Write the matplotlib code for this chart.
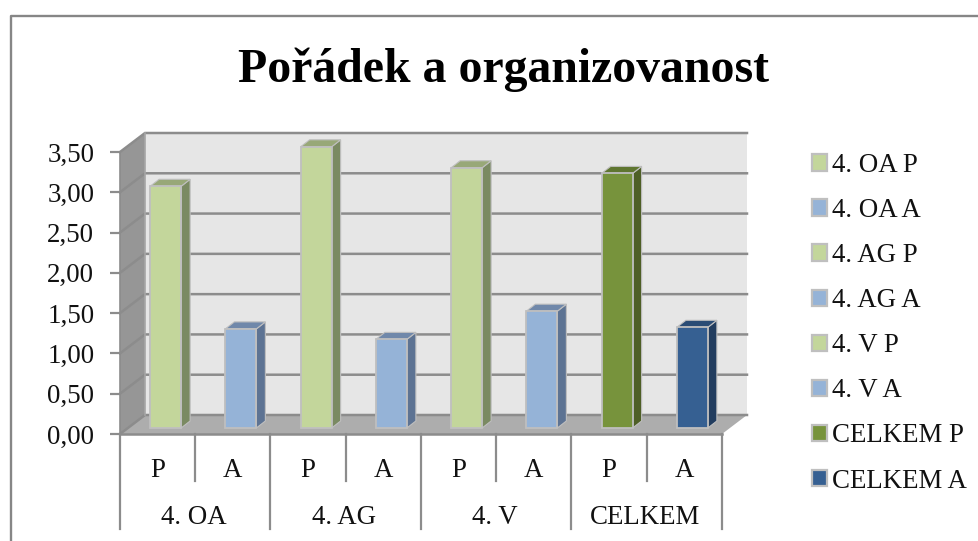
import matplotlib
matplotlib.use("Agg")
import matplotlib.pyplot as plt
from matplotlib.patches import Polygon, Patch
from matplotlib.ticker import FuncFormatter

plt.rcParams["font.family"] = ["Liberation Serif", "DejaVu Serif"]

groups = ["4. OA", "4. AG", "4. V", "CELKEM"]
subcats = ["P", "A", "P", "A", "P", "A", "P", "A"]
values = [3.00, 1.23, 3.49, 1.10, 3.23, 1.45, 3.16, 1.25]
legend_labels = ["4. OA P", "4. OA A", "4. AG P", "4. AG A", "4. V P", "4. V A", "CELKEM P", "CELKEM A"]
yticks = [0, 0.5, 1, 1.5, 2, 2.5, 3, 3.5]

LIGHT_GREEN = ("#C3D69B", "#7A8A62", "#98A878")
LIGHT_BLUE = ("#95B3D7", "#5D7393", "#7088AA")
DARK_GREEN = ("#77933C", "#4E5F26", "#5F7630")
DARK_BLUE = ("#366092", "#223D5F", "#2A4C75")
bar_colors = [LIGHT_GREEN, LIGHT_BLUE, LIGHT_GREEN, LIGHT_BLUE, LIGHT_GREEN, LIGHT_BLUE, DARK_GREEN, DARK_BLUE]

GRID = "#8C8C8C"
EDGE = "#BFBFBF"
FS = 19.4
PX_X = 1 / 75.25   # data units per pixel
PX_Y = 3.5 / 282
DX, DY = 25 * PX_X, 19 * PX_Y
BAR_W = 31 * PX_X
BAR_DX, BAR_DY = 9 * PX_X, 7 * PX_Y
OFF_X, OFF_Y = 8 * PX_X, 6 * PX_Y

fig = plt.figure(figsize=(9.79, 5.41), dpi=100)
ax = fig.add_axes([120 / 979, 1 - 434 / 541, 602 / 979, 282 / 541])
ax.set_xlim(0, 8)
ax.set_ylim(0, 3.5)
for s in ax.spines.values():
    s.set_visible(False)
ax.patch.set_visible(False)

# outer frame of the chart area
fig.add_artist(plt.Line2D([10.5 / 979, 10.5 / 979, 1], [0, 1 - 16 / 541, 1 - 16 / 541], color="#868686", lw=1.7))

# walls and floor
n = len(values)
ax.add_patch(Polygon([(DX, DY), (n + DX, DY), (n + DX, 3.5 + DY), (DX, 3.5 + DY)], fc="#E6E6E6", ec="none", clip_on=False, zorder=1))
ax.add_patch(Polygon([(0, 0), (DX, DY), (DX, 3.5 + DY), (0, 3.5)], fc="#969696", ec="none", clip_on=False, zorder=1))
ax.add_patch(Polygon([(0, 0), (n, 0), (n + DX, DY), (DX, DY)], fc="#ADADAD", ec="none", clip_on=False, zorder=1))

for t in yticks:
    ax.plot([0, DX, n + DX], [t, t + DY, t + DY], color=GRID, lw=1.8, clip_on=False, zorder=2, solid_joinstyle="miter")
ax.plot([DX, DX], [DY, 3.5 + DY], color="#A6A6A6", lw=1.2, clip_on=False, zorder=2)

# bars with side and top faces
for i, (v, c) in enumerate(zip(values, bar_colors)):
    x0 = i + 0.5 - BAR_W / 2 + OFF_X
    x1 = x0 + BAR_W
    front = ax.bar(x0, v, width=BAR_W, bottom=OFF_Y, align="edge", color=c[0], edgecolor=EDGE, linewidth=1.3, clip_on=False, zorder=4)
    top = v + OFF_Y
    ax.add_patch(Polygon([(x1, OFF_Y), (x1 + BAR_DX, OFF_Y + BAR_DY), (x1 + BAR_DX, top + BAR_DY), (x1, top)],
                         fc=c[1], ec=EDGE, lw=0.8, clip_on=False, zorder=3))
    ax.add_patch(Polygon([(x0, top), (x1, top), (x1 + BAR_DX, top + BAR_DY), (x0 + BAR_DX, top + BAR_DY)],
                         fc=c[2], ec=EDGE, lw=0.8, clip_on=False, zorder=3))

# axes
ax.plot([0, n], [0, 0], color=GRID, lw=1.8, clip_on=False, zorder=5)
ax.plot([0, 0], [0, 3.5], color=GRID, lw=1.2, clip_on=False, zorder=5)
ax.set_yticks(yticks)
ax.yaxis.set_major_formatter(FuncFormatter(lambda v, p: f"{v:.2f}".replace(".", ",")))
ax.tick_params(axis="y", length=7, width=1.6, color=GRID, labelsize=FS, pad=11.5, labelcolor="#111111")
ax.set_xticks([i + 0.5 for i in range(n)])
ax.set_xticklabels(subcats)
ax.tick_params(axis="x", length=0, labelsize=FS, pad=17, labelcolor="#111111")

# two level category axis
low1, low2 = -47 * PX_Y, -95 * PX_Y
for i in range(n + 1):
    ymin = low2 if i % 2 == 0 else low1
    ax.plot([i, i], [0, ymin], color=GRID, lw=1.6, clip_on=False, zorder=5)
for j, g in enumerate(groups):
    ax.text(2 * j + 1 - 0.02, -83 * PX_Y, g, ha="center", va="center", fontsize=FS, color="#111111", clip_on=False)

fig.text(503 / 979, 1 - 70 / 541, "Pořádek a organizovanost", ha="center", va="center", fontsize=34.4, fontweight="bold", color="black")

handles = [Patch(facecolor=c[0], edgecolor=EDGE, linewidth=1.6) for c in bar_colors]
fig.legend(handles, legend_labels, loc="upper left", bbox_to_anchor=(812 / 979, 1 - 153 / 541), frameon=False,
           fontsize=FS, labelspacing=0.745, handlelength=0.55, handleheight=0.55, handletextpad=0.2, borderpad=0,
           borderaxespad=0, labelcolor="#111111")

fig.savefig("out.png", dpi=100)
